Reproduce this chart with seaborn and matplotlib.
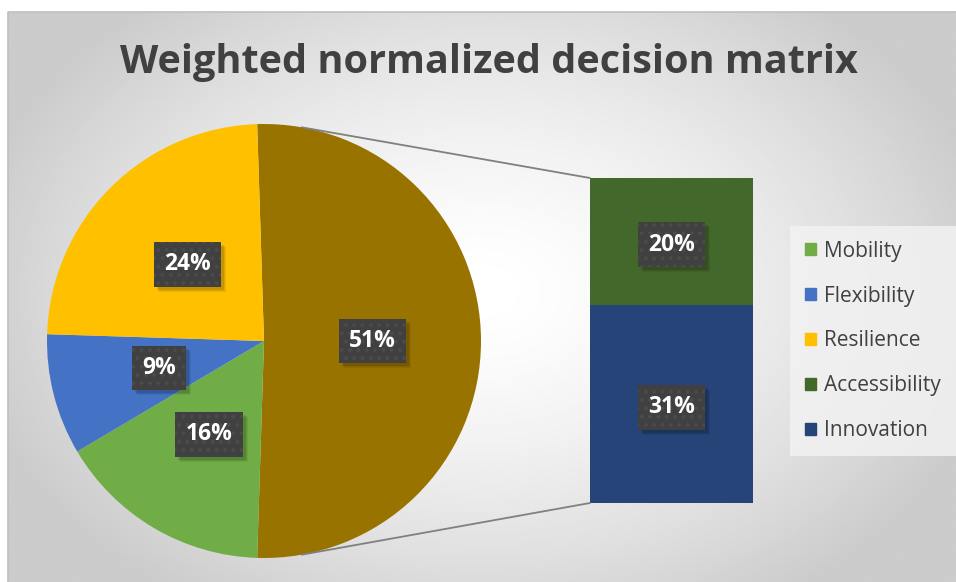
import numpy as np
import matplotlib.pyplot as plt
from matplotlib.patches import Patch, Rectangle
import seaborn as sns

# data
pie_labels = ["Mobility", "Flexibility", "Resilience"]
pie_values = [16, 9, 24]
bar_labels = ["Accessibility", "Innovation"]
bar_values = [20, 31]

pie_colors = ["#70AD47", "#4472C4", "#FFC000"]
other_color = "#997300"
bar_colors = ["#43682B", "#264478"]

sns.set_theme(style="white")
plt.rcParams["font.family"] = ["Open Sans", "DejaVu Sans"]
plt.rcParams["hatch.linewidth"] = 1.6

W, H = 956, 582
fig = plt.figure(figsize=(9.56, 5.82), dpi=100)
ax = fig.add_axes([0, 0, 1, 1])

# radial gradient background of the chart area
xs = np.linspace(8, W, 480)
ys = np.linspace(0, 570, 290)
X, Y = np.meshgrid(xs, ys)
d = np.sqrt(((X - 482) / 520) ** 2 + ((Y - 291) / 370) ** 2)
v = 1 - 0.2 * np.clip(d, 0, 1) ** 1.5
ax.imshow(v, extent=[8, W, 0, 570], cmap="gray", vmin=0, vmax=1,
          origin="lower", aspect="auto", zorder=0, interpolation="bilinear")
ax.plot([8, 8, W], [0, 570, 570], color="#BFBFBF", lw=1.2, zorder=1)

# pie with the "other" slice = sum of the bar values
cx, cy, R = 264, 241, 217
other_total = sum(bar_values)
vals = [other_total] + pie_values
cols = [other_color] + pie_colors
start = 180 * other_total / sum(vals)
wedges, _, autotexts = ax.pie(
    vals, colors=cols, center=(cx, cy), radius=R, startangle=start,
    counterclock=False, autopct="%1.0f%%", pctdistance=0.5,
    wedgeprops=dict(linewidth=0),
)

# stacked bar for the breakdown
bx, bw, b0, bh = 671.5, 163, 79, 325
scale = bh / other_total
bottom = b0
bar_texts = []
for lab, val, col in reversed(list(zip(bar_labels, bar_values, bar_colors))):
    c = ax.bar(bx, val * scale, bottom=bottom, width=bw, color=col,
               linewidth=0, zorder=2)
    r = c.patches[0]
    bar_texts.append(ax.text(r.get_x() + r.get_width() / 2,
                             r.get_y() + r.get_height() / 2 - 3, f"{val}%"))
    bottom += val * scale

# connector lines
ang = np.deg2rad(80)
ax.plot([cx + R * np.cos(ang), bx - bw / 2], [cy + R * np.sin(ang), b0 + bh],
        color="#808080", lw=1.3, zorder=3)
ax.plot([cx + R * np.cos(ang), bx - bw / 2], [cy - R * np.sin(ang), b0],
        color="#808080", lw=1.3, zorder=3)

# data labels with dark dotted boxes
labels = list(autotexts) + bar_texts
for t in labels:
    t.set_color("white")
    t.set_fontsize(16.5)
    t.set_fontweight("bold")
    t.set_ha("center")
    t.set_va("center")
    t.set_zorder(6)
    t.set_bbox(dict(boxstyle="square,pad=0.45", facecolor="#404040",
                    edgecolor="#4b4b4b", linewidth=0, hatch=".."))

# title
ax.text(489, H - 62, "Weighted normalized decision matrix", ha="center",
        va="center", fontsize=28.5, fontweight="bold", color="#404040")

# legend
handles = [Patch(color=c) for c in pie_colors + bar_colors]
leg = ax.legend(handles, pie_labels + bar_labels, loc="upper left",
                bbox_to_anchor=(790 / W, (H - 226) / H), borderaxespad=0,
                frameon=True, facecolor="#F2F2F2", edgecolor="none",
                fancybox=False, fontsize=15, labelspacing=1.15,
                handlelength=0.55, handleheight=0.55, handletextpad=0.4,
                borderpad=0.7, labelcolor="#404040")
leg.get_frame().set_alpha(0.85)

ax.set_xlim(0, W)
ax.set_ylim(0, H)
ax.set_aspect("auto")
ax.axis("off")

# soft shadows behind the label boxes
fig.canvas.draw()
inv = ax.transData.inverted()
for t in labels:
    bb = t.get_bbox_patch().get_window_extent()
    for k, a in [(5, 0.06), (4, 0.08), (3, 0.1)]:
        (x0, y0), (x1, y1) = inv.transform([[bb.x0 + k, bb.y0 - k], [bb.x1 + k, bb.y1 - k]])
        ax.add_patch(Rectangle((x0, y0), x1 - x0, y1 - y0, facecolor="black",
                               alpha=a, linewidth=0, zorder=5))

fig.savefig("out.png", dpi=100, facecolor="white")
